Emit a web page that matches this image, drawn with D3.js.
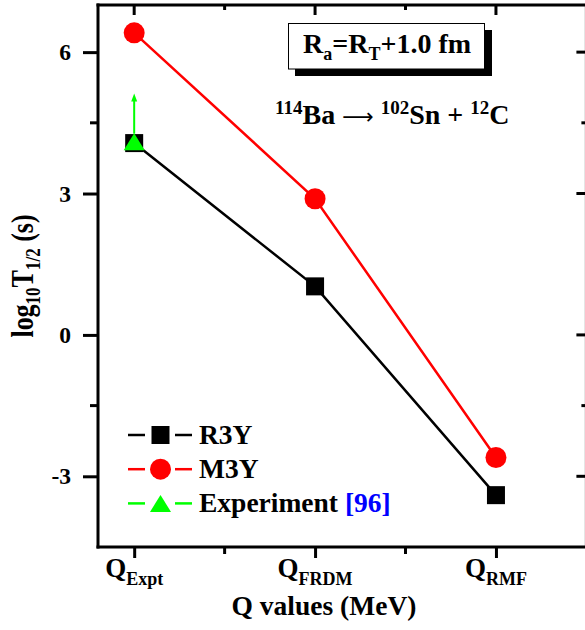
<!DOCTYPE html>
<html>
<head>
<meta charset="utf-8">
<script src="https://cdn.jsdelivr.net/npm/d3@7/dist/d3.min.js"></script>
<style>
  html, body { margin: 0; padding: 0; background: #fff; }
  svg { display: block; }
  text { font-family: "Liberation Serif", "Times New Roman", serif; font-weight: bold; }
</style>
</head>
<body>
<svg id="chart" width="585" height="630"></svg>
<script>
// Q-value sources along the x axis
const categories = ["Expt", "FRDM", "RMF"];
const categoryPos = [1, 2, 3];

// log10 T1/2 (s) for 114Ba -> 102Sn + 12C
const r3y = [4.07, 1.03, -3.40];
const m3y = [6.41, 2.89, -2.60];
const experiment = [4.10];          // lower limit, Q_Expt only

const yTicks = [-3, 0, 3, 6];
const yMinor = [-1.5, 4.5];
const xMinor = [1.5, 2.5];

const svg = d3.select("#chart");

const x = d3.scaleLinear().domain([0.8, 3.5]).range([98, 586.4]);
const y = d3.scaleLinear().domain([-4.5, 7]).range([547, 5]);

const axisW = 3;

// frame
const frame = svg.append("g");
frame.append("line").attr("x1", x(0.8)).attr("x2", x(0.8)).attr("y1", y(7) - 1.5).attr("y2", y(-4.5) + 1.5)
  .attr("stroke", "#000").attr("stroke-width", axisW);
frame.append("line").attr("x1", x(3.5)).attr("x2", x(3.5)).attr("y1", y(7)).attr("y2", y(-4.5))
  .attr("stroke", "#000").attr("stroke-width", axisW);
frame.append("line").attr("x1", x(0.8) - 1.5).attr("x2", x(3.5)).attr("y1", y(7)).attr("y2", y(7))
  .attr("stroke", "#000").attr("stroke-width", axisW);
frame.append("line").attr("x1", x(0.8) - 1.5).attr("x2", x(3.5)).attr("y1", y(-4.5)).attr("y2", y(-4.5))
  .attr("stroke", "#000").attr("stroke-width", axisW);

// left axis: outward ticks
const leftAxis = d3.axisLeft(y).tickValues(yTicks).tickSize(15).tickPadding(12).tickFormat(d3.format("d"));
const gl = svg.append("g").attr("transform", `translate(${x(0.8)},0)`).call(leftAxis);
gl.select(".domain").remove();
gl.selectAll(".tick line").attr("stroke-width", axisW);
gl.selectAll(".tick text").attr("font-size", 23.5).attr("fill", "#000")
  .attr("font-family", "Liberation Serif, serif").attr("font-weight", "bold")
  .text(d => d < 0 ? "-" + Math.abs(d) : d);
gl.selectAll(".minor").data(yMinor).enter().append("line")
  .attr("x1", 0).attr("x2", -8).attr("y1", d => y(d)).attr("y2", d => y(d))
  .attr("stroke", "#000").attr("stroke-width", axisW);

// right axis: inward ticks
const gr = svg.append("g").attr("transform", `translate(${x(3.5)},0)`);
gr.selectAll(".maj").data(yTicks).enter().append("line")
  .attr("x1", 0).attr("x2", -10).attr("y1", d => y(d)).attr("y2", d => y(d))
  .attr("stroke", "#000").attr("stroke-width", axisW);
gr.selectAll(".min").data(yMinor).enter().append("line")
  .attr("x1", 0).attr("x2", -5).attr("y1", d => y(d)).attr("y2", d => y(d))
  .attr("stroke", "#000").attr("stroke-width", axisW);

// bottom axis: outward ticks, labels Q with subscripts
const bottomAxis = d3.axisBottom(x).tickValues(categoryPos).tickSize(11).tickFormat("");
const gb = svg.append("g").attr("transform", `translate(0,${y(-4.5)})`).call(bottomAxis);
gb.select(".domain").remove();
gb.selectAll(".tick line").attr("stroke-width", axisW);
gb.selectAll(".minor").data(xMinor).enter().append("line")
  .attr("x1", d => x(d)).attr("x2", d => x(d)).attr("y1", 0).attr("y2", 7)
  .attr("stroke", "#000").attr("stroke-width", axisW);

const xl = svg.append("g");
categories.forEach((c, i) => {
  const t = xl.append("text").attr("x", x(categoryPos[i])).attr("y", 577)
    .attr("text-anchor", "middle").attr("font-size", 27).attr("fill", "#000");
  t.append("tspan").text("Q");
  t.append("tspan").attr("dy", 8).attr("font-size", 18).text(c);
});

// top axis: inward ticks
const gt = svg.append("g").attr("transform", `translate(0,${y(7)})`);
gt.selectAll(".maj").data(categoryPos).enter().append("line")
  .attr("x1", d => x(d)).attr("x2", d => x(d)).attr("y1", 0).attr("y2", 10)
  .attr("stroke", "#000").attr("stroke-width", axisW);
gt.selectAll(".min").data(xMinor).enter().append("line")
  .attr("x1", d => x(d)).attr("x2", d => x(d)).attr("y1", 0).attr("y2", 5)
  .attr("stroke", "#000").attr("stroke-width", axisW);

// axis titles
svg.append("text").attr("x", 324).attr("y", 615).attr("text-anchor", "middle")
  .attr("font-size", 27.5).attr("fill", "#000").text("Q values (MeV)");

const yt = svg.append("text").attr("transform", "translate(33,276) rotate(-90) scale(1,1.2)")
  .attr("text-anchor", "middle").attr("font-size", 26).attr("fill", "#000");
yt.append("tspan").text("log");
yt.append("tspan").attr("dy", 6).attr("font-size", 17).text("10");
yt.append("tspan").attr("dy", -6).text("T");
yt.append("tspan").attr("dy", 6).attr("font-size", 17).text("1/2");
yt.append("tspan").attr("dy", -6).text(" (s)");

// series lines
const line = d3.line().x((d, i) => x(categoryPos[i])).y(d => y(d));
svg.append("path").datum(r3y).attr("d", line).attr("fill", "none")
  .attr("stroke", "#000").attr("stroke-width", 2.5);
svg.append("path").datum(m3y).attr("d", line).attr("fill", "none")
  .attr("stroke", "#ff0000").attr("stroke-width", 2.5);

// markers
const sq = 18, circR = 10.5;
svg.selectAll(".sq").data(r3y).enter().append("rect")
  .attr("x", (d, i) => x(categoryPos[i]) - sq / 2).attr("y", d => y(d) - sq / 2)
  .attr("width", sq).attr("height", sq).attr("fill", "#000");
svg.selectAll(".ci").data(m3y).enter().append("circle")
  .attr("cx", (d, i) => x(categoryPos[i])).attr("cy", d => y(d)).attr("r", circR)
  .attr("fill", "#ff0000");

const triPath = (cx, cy) => `M${cx},${cy - 8.5}L${cx + 10.5},${cy + 8.5}L${cx - 10.5},${cy + 8.5}Z`;

// experiment: lower limit arrow
experiment.forEach((v, i) => {
  const cx = x(categoryPos[i]), cy = y(v);
  svg.append("line").attr("x1", cx).attr("x2", cx).attr("y1", cy - 8).attr("y2", y(v + 0.9))
    .attr("stroke", "#00ff00").attr("stroke-width", 2);
  const tip = y(v + 1.02);
  svg.append("path").attr("d", `M${cx},${tip}L${cx + 3},${tip + 8}L${cx - 3},${tip + 8}Z`)
    .attr("fill", "#00ff00");
  svg.append("path").attr("d", triPath(cx, cy)).attr("fill", "#00ff00");
});

// legend
const legendItems = [
  { label: "R3Y", color: "#000", shape: "square" },
  { label: "M3Y", color: "#ff0000", shape: "circle" },
  { label: "Experiment", color: "#00ff00", shape: "triangle", ref: "[96]" }
];
const lg = svg.append("g");
legendItems.forEach((it, i) => {
  const cy = 435 + i * 34.2, cx = 160.5;
  lg.append("line").attr("x1", 128).attr("x2", 145).attr("y1", cy).attr("y2", cy)
    .attr("stroke", it.color).attr("stroke-width", 2.5);
  lg.append("line").attr("x1", 175).attr("x2", 192).attr("y1", cy).attr("y2", cy)
    .attr("stroke", it.color).attr("stroke-width", 2.5);
  if (it.shape === "square") {
    lg.append("rect").attr("x", cx - 9).attr("y", cy - 9).attr("width", 18).attr("height", 18).attr("fill", it.color);
  } else if (it.shape === "circle") {
    lg.append("circle").attr("cx", cx).attr("cy", cy).attr("r", 10.5).attr("fill", it.color);
  } else {
    lg.append("path").attr("d", triPath(cx, cy)).attr("fill", it.color);
  }
  const t = lg.append("text").attr("x", 199).attr("y", cy + 9).attr("font-size", 27.5).attr("fill", "#000");
  t.append("tspan").text(it.label);
  if (it.ref) t.append("tspan").attr("fill", "#0000ff").text(" " + it.ref);
});

// annotation box
svg.append("rect").attr("x", 295).attr("y", 30).attr("width", 197).attr("height", 46).attr("fill", "#000");
svg.append("rect").attr("x", 288.5).attr("y", 23.5).attr("width", 196).attr("height", 45.5)
  .attr("fill", "#fff").attr("stroke", "#000").attr("stroke-width", 1);
const bt = svg.append("text").attr("x", 303).attr("y", 53).attr("font-size", 28).attr("fill", "#000");
bt.append("tspan").text("R");
bt.append("tspan").attr("dy", 7).attr("font-size", 18).text("a");
bt.append("tspan").attr("dy", -7).text("=R");
bt.append("tspan").attr("dy", 7).attr("font-size", 18).text("T");
bt.append("tspan").attr("dy", -7).text("+1.0 fm");

// reaction label
const rt = svg.append("text").attr("x", 275).attr("y", 124).attr("font-size", 28).attr("fill", "#000");
rt.append("tspan").attr("dy", -10).attr("font-size", 19).text("114");
rt.append("tspan").attr("dy", 10).text("Ba ");
rt.append("tspan").attr("font-weight", "normal").attr("font-family", "DejaVu Sans, sans-serif")
  .attr("font-size", 22).text("\u27F6");
rt.append("tspan").text(" ");
rt.append("tspan").attr("dy", -10).attr("font-size", 19).text("102");
rt.append("tspan").attr("dy", 10).text("Sn + ");
rt.append("tspan").attr("dy", -10).attr("font-size", 19).text("12");
rt.append("tspan").attr("dy", 10).text("C");
</script>
</body>
</html>
